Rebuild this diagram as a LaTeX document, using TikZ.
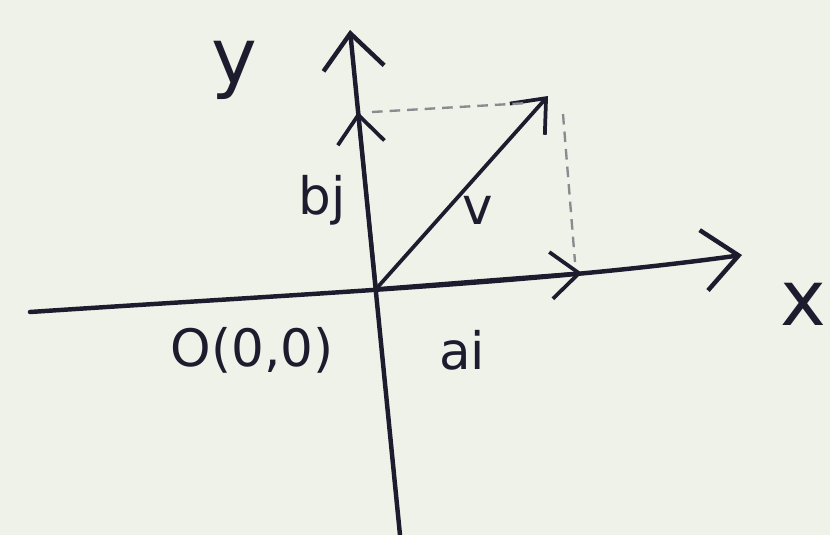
\documentclass[tikz,border=0pt]{standalone}
\usepackage{fontspec}
\setmainfont{DejaVu Sans}
\usetikzlibrary{arrows.meta}
\definecolor{paper}{HTML}{EEF2E8}
\definecolor{ink}{HTML}{1C1C2E}
\definecolor{dash}{HTML}{8A8A90}
\tikzset{
  axis/.style={draw=ink, line width=3.8pt, line cap=round, -{Straight Barb[length=30pt,width=52pt,line width=3.8pt]}},
  comp/.style={draw=ink, line width=3.2pt, line cap=round, -{Straight Barb[length=24pt,width=40pt,line width=3.2pt]}},
  guide/.style={draw=dash, line width=2pt, dash pattern=on 9pt off 6pt},
  lab/.style={text=ink, inner sep=0pt, font=\fontsize{44}{44}\selectfont},
  biglab/.style={text=ink, inner sep=0pt, font=\fontsize{66}{66}\selectfont}
}
\begin{document}
\begin{tikzpicture}[x={(0.03cm,0)}, y={(0,-0.03cm)}]
\fill[paper] (0,0) rectangle (830,535);
\useasboundingbox (0,0) rectangle (830,535);
\coordinate (O) at (376,289);
\coordinate (xs) at (30,312);
\coordinate (xe) at (742,255);
\coordinate (ys) at (400,535);
\coordinate (ye) at (350,30);
\coordinate (V) at (548,96);
\coordinate (A) at (582,273);
\coordinate (B) at (358,112);
\coordinate (Bd) at (372,112);
\coordinate (Vd) at (528,103);
\coordinate (Vv) at (563,114);
\coordinate (Av) at (575,262);
\draw[axis] (xs) .. controls (300,294) and (540,283) .. (xe);
\draw[axis] (ys) -- (ye);
\draw[comp] (O) -- (V);
\draw[comp] (O) -- (B);
\draw[comp] (O) -- (A);
\draw[guide] (Bd) -- (Vd);
\draw[guide] (Vv) -- (Av);
\node[biglab] (ylab) at (234,70) {y};
\node[biglab] (xlab) at (803,304) {x};
\node[lab] (bj) at (322,200) {bj};
\node[lab] (v) at (478,210) {v};
\node[lab] (olab) at (252,350) {O(0,0)};
\node[lab] (ai) at (462,350) {ai};
\end{tikzpicture}
\end{document}
